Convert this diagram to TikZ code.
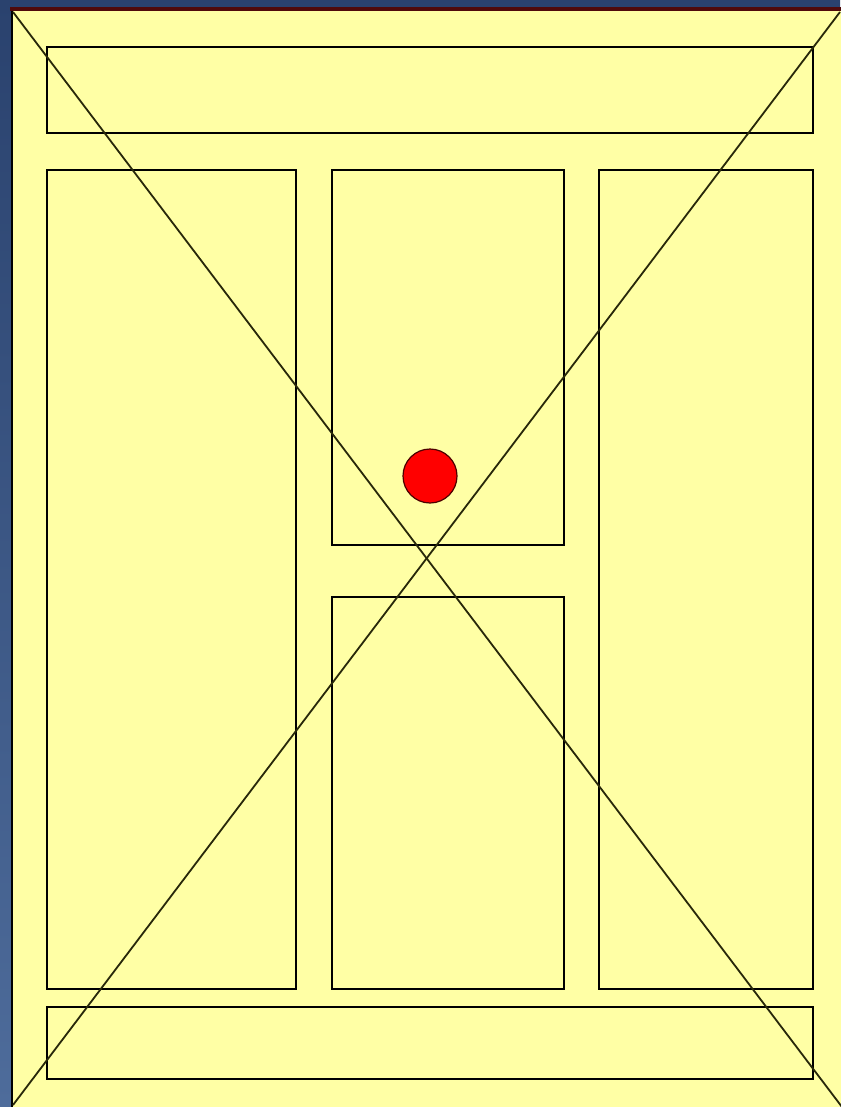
\documentclass[tikz,border=0pt]{standalone}
\usetikzlibrary{shadings}
\definecolor{bgtop}{RGB}{42,66,110}
\definecolor{bgbot}{RGB}{78,108,155}
\definecolor{paper}{RGB}{255,255,165}
\definecolor{darkred}{RGB}{80,10,10}
\definecolor{diag}{RGB}{40,40,10}
\tikzset{
  panel/.style={draw=black, line width=2.2pt},
  diagline/.style={draw=diag, line width=1.8pt},
}
\begin{document}
\begin{tikzpicture}[x=1pt,y=-1pt]
\useasboundingbox (0,0) rectangle (840,1107);
% background
\shade[top color=bgtop, bottom color=bgbot] (0,0) rectangle (840,1107);
% paper
\fill[paper] (12,10) rectangle (841,1108);
\draw[black, line width=2.4pt] (12,10) -- (12,1108);
\draw[darkred, line width=4pt] (10,9) -- (841,9);
% panels
\draw[panel] (47,47) rectangle (813,133);
\draw[panel] (47,170) rectangle (296,989);
\draw[panel] (332,170) rectangle (564,545);
\draw[panel] (332,597) rectangle (564,989);
\draw[panel] (599,170) rectangle (813,989);
\draw[panel] (47,1007) rectangle (813,1079);
% diagonals
\draw[diagline] (13,12) -- (842,1107);
\draw[diagline] (840,12) -- (13,1105);
% red dot
\filldraw[fill=red, draw=black!70!red, line width=1.2pt] (430,476) circle (27);
\end{tikzpicture}
\end{document}
